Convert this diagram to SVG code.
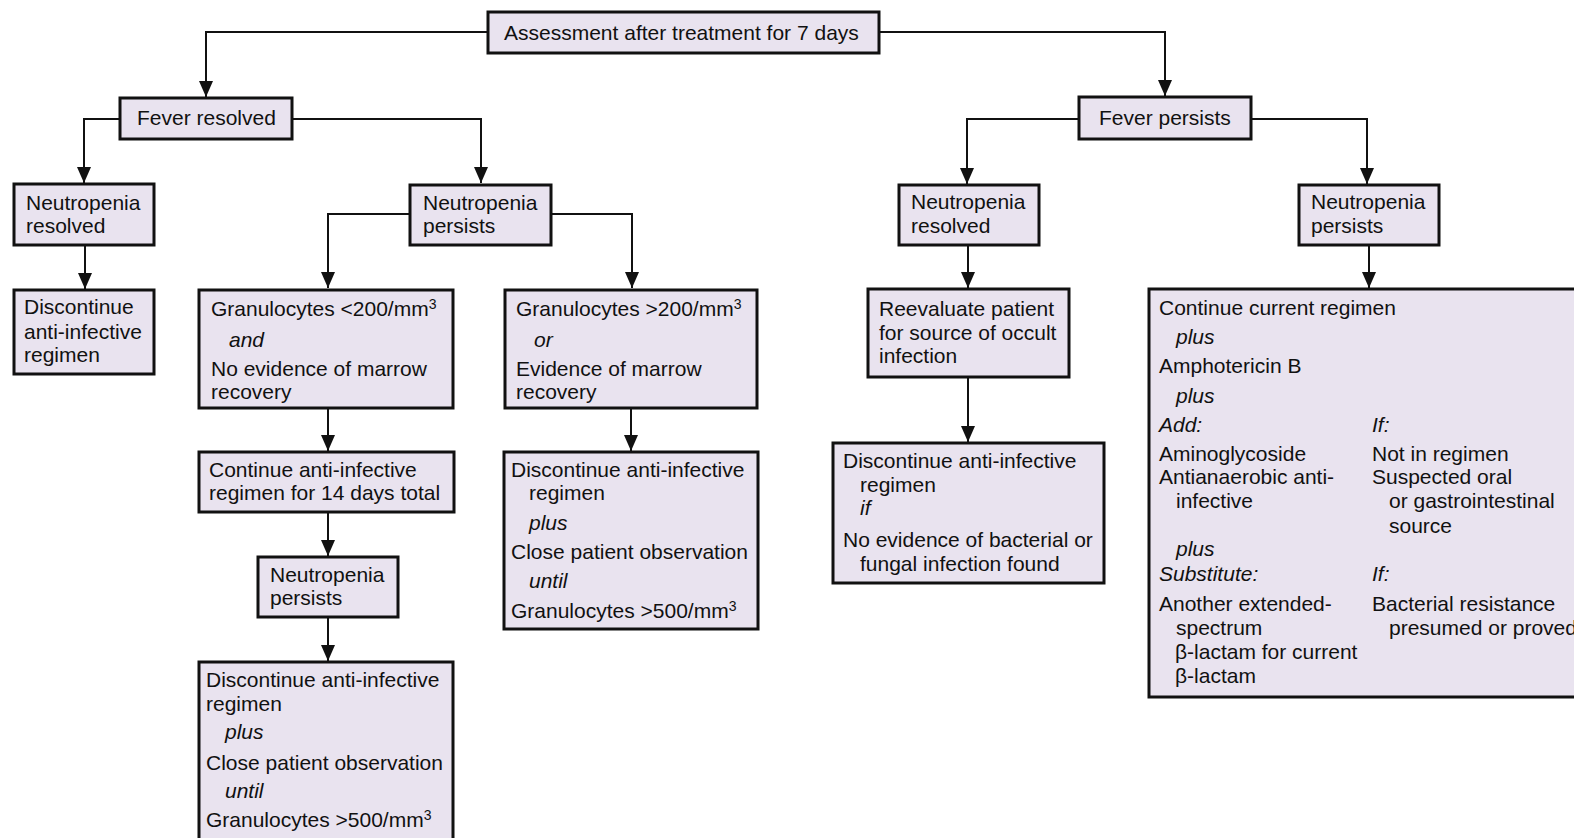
<svg xmlns="http://www.w3.org/2000/svg" width="1574" height="838" viewBox="0 0 1574 838">
<style>
.box{fill:#E9E3EF;stroke:#111;stroke-width:3}
text{font-family:"Liberation Sans",Arial,sans-serif;font-size:21px;fill:#111}
.i{font-style:italic}
.sup{font-size:14px}
.c{fill:none;stroke:#111;stroke-width:2;marker-end:url(#ah)}
</style>
<defs>
<marker id="ah" markerUnits="userSpaceOnUse" viewBox="0 0 16 14" refX="16" refY="7" markerWidth="16" markerHeight="14" orient="auto">
<path d="M0,0 L16,7 L0,14 z" fill="#111"/>
</marker>
</defs>
<rect width="1574" height="838" fill="#fff"/>
<g id="connectors">
<path class="c" d="M488,32 H206 V97"/>
<path class="c" d="M879,32 H1165 V96"/>
<path class="c" d="M120,119 H84 V183"/>
<path class="c" d="M292,119 H481 V183"/>
<path class="c" d="M85,245 V289"/>
<path class="c" d="M410,214 H328 V288"/>
<path class="c" d="M551,214 H632 V288"/>
<path class="c" d="M328,408 V451"/>
<path class="c" d="M328,512 V556"/>
<path class="c" d="M328,617 V661"/>
<path class="c" d="M631,408 V451"/>
<path class="c" d="M1079,119 H967 V184"/>
<path class="c" d="M1251,119 H1367 V184"/>
<path class="c" d="M968,245 V288"/>
<path class="c" d="M968,377 V442"/>
<path class="c" d="M1369,245 V288"/>
</g>
<g id="n-assess"><rect class="box" x="488" y="12" width="391" height="41"/><text x="504" y="40">Assessment after treatment for 7 days</text></g>
<g id="n-fever-resolved"><rect class="box" x="120" y="98" width="172" height="41"/><text x="137" y="125">Fever resolved</text></g>
<g id="n-fever-persists"><rect class="box" x="1079" y="97" width="172" height="42"/><text x="1099" y="125">Fever persists</text></g>
<g id="n-neut-res-left"><rect class="box" x="14" y="184" width="140" height="61"/><text x="26" y="210">Neutropenia</text><text x="26" y="233">resolved</text></g>
<g id="n-neut-per-mid"><rect class="box" x="410" y="185" width="141" height="60"/><text x="423" y="210">Neutropenia</text><text x="423" y="233">persists</text></g>
<g id="n-disc-left"><rect class="box" x="14" y="290" width="140" height="84"/><text x="24" y="314">Discontinue</text><text x="24" y="339">anti-infective</text><text x="24" y="362">regimen</text></g>
<g id="n-gran-lt200"><rect class="box" x="199" y="290" width="254" height="118"/>
<text x="211" y="316">Granulocytes &lt;200/mm<tspan class="sup" dy="-7">3</tspan></text>
<text class="i" x="229" y="347">and</text>
<text x="211" y="376">No evidence of marrow</text>
<text x="211" y="399">recovery</text></g>
<g id="n-gran-gt200"><rect class="box" x="505" y="290" width="252" height="118"/>
<text x="516" y="316">Granulocytes &gt;200/mm<tspan class="sup" dy="-7">3</tspan></text>
<text class="i" x="534" y="347">or</text>
<text x="516" y="376">Evidence of marrow</text>
<text x="516" y="399">recovery</text></g>
<g id="n-continue14"><rect class="box" x="199" y="452" width="255" height="60"/><text x="209" y="477">Continue anti-infective</text><text x="209" y="500">regimen for 14 days total</text></g>
<g id="n-disc-mid-right"><rect class="box" x="504" y="452" width="254" height="177"/>
<text x="511" y="477">Discontinue anti-infective</text>
<text x="529" y="500">regimen</text>
<text class="i" x="529" y="530">plus</text>
<text x="511" y="559">Close patient observation</text>
<text class="i" x="529" y="588">until</text>
<text x="511" y="618">Granulocytes &gt;500/mm<tspan class="sup" dy="-7">3</tspan></text></g>
<g id="n-neut-per-low"><rect class="box" x="258" y="557" width="140" height="60"/><text x="270" y="582">Neutropenia</text><text x="270" y="605">persists</text></g>
<g id="n-disc-bottom"><rect class="box" x="199" y="662" width="254" height="190"/>
<text x="206" y="687">Discontinue anti-infective</text>
<text x="206" y="711">regimen</text>
<text class="i" x="225" y="739">plus</text>
<text x="206" y="770">Close patient observation</text>
<text class="i" x="225" y="798">until</text>
<text x="206" y="827">Granulocytes &gt;500/mm<tspan class="sup" dy="-7">3</tspan></text></g>
<g id="n-neut-res-right"><rect class="box" x="899" y="185" width="140" height="60"/><text x="911" y="209">Neutropenia</text><text x="911" y="233">resolved</text></g>
<g id="n-reevaluate"><rect class="box" x="868" y="289" width="201" height="88"/><text x="879" y="316">Reevaluate patient</text><text x="879" y="340">for source of occult</text><text x="879" y="363">infection</text></g>
<g id="n-disc-right"><rect class="box" x="833" y="443" width="271" height="140"/>
<text x="843" y="468">Discontinue anti-infective</text>
<text x="860" y="492">regimen</text>
<text class="i" x="860" y="515">if</text>
<text x="843" y="547">No evidence of bacterial or</text>
<text x="860" y="571">fungal infection found</text></g>
<g id="n-neut-per-right"><rect class="box" x="1299" y="185" width="140" height="60"/><text x="1311" y="209">Neutropenia</text><text x="1311" y="233">persists</text></g>
<g id="n-continue-current"><rect class="box" x="1149" y="289" width="440" height="408"/>
<text x="1159" y="315">Continue current regimen</text>
<text class="i" x="1176" y="344">plus</text>
<text x="1159" y="373">Amphotericin B</text>
<text class="i" x="1176" y="403">plus</text>
<text class="i" x="1159" y="432">Add:</text>
<text class="i" x="1372" y="432">If:</text>
<text x="1159" y="461">Aminoglycoside</text>
<text x="1372" y="461">Not in regimen</text>
<text x="1159" y="484">Antianaerobic anti-</text>
<text x="1372" y="484">Suspected oral</text>
<text x="1176" y="508">infective</text>
<text x="1389" y="508">or gastrointestinal</text>
<text x="1389" y="533">source</text>
<text class="i" x="1176" y="556">plus</text>
<text class="i" x="1159" y="581">Substitute:</text>
<text class="i" x="1372" y="581">If:</text>
<text x="1159" y="611">Another extended-</text>
<text x="1372" y="611">Bacterial resistance</text>
<text x="1176" y="635">spectrum</text>
<text x="1389" y="635">presumed or proved</text>
<text x="1175" y="659">β-lactam for current</text>
<text x="1175" y="683">β-lactam</text></g>
</svg>
